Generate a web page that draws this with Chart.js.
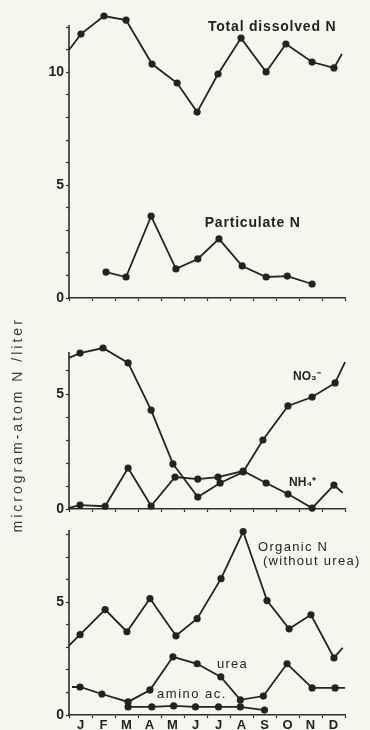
<!DOCTYPE html>
<html><head><meta charset="utf-8">
<script src="https://cdn.jsdelivr.net/npm/chart.js@4"></script>
<style>
html,body{margin:0;padding:0;background:#f6f6ee;}
body{width:370px;height:730px;position:relative;overflow:hidden;}
canvas{position:absolute;left:0;}
</style></head><body>
<canvas id="c1" width="370" height="310" style="top:0px"></canvas>
<canvas id="c2" width="370" height="260" style="top:290px"></canvas>
<canvas id="c3" width="370" height="208" style="top:522px"></canvas>
<script>
// ---- data (x = time in months from 1 Jan, y = microgram-atom N / liter) ----
const months = ['J','F','M','A','M','J','J','A','S','O','N','D'];

const tdnX = [0, 0.52, 1.52, 2.48, 3.61, 4.70, 5.57, 6.48, 7.48, 8.57, 9.43, 10.57, 11.52, 11.87];
const tdnY = [10.99, 11.70, 12.50, 12.32, 10.37, 9.53, 8.24, 9.93, 11.52, 10.02, 11.26, 10.46, 10.20, 10.82];

const pnX = [1.61, 2.48, 3.57, 4.65, 5.60, 6.52, 7.53, 8.57, 9.49, 10.57];
const pnY = [1.15, 0.93, 3.63, 1.29, 1.73, 2.62, 1.42, 0.93, 0.97, 0.62];

const no3X = [0, 0.48, 1.48, 2.57, 3.57, 4.52, 5.60, 6.57, 7.57, 8.43, 9.52, 10.57, 11.57, 12.0];
const no3Y = [6.57, 6.78, 7.00, 6.35, 4.30, 1.96, 0.52, 1.13, 1.61, 3.00, 4.48, 4.87, 5.48, 6.39];

const nh4X = [0, 0.48, 1.57, 2.57, 3.57, 4.61, 5.60, 6.48, 7.57, 8.57, 9.52, 10.57, 11.52, 11.9];
const nh4Y = [0.05, 0.17, 0.12, 1.78, 0.13, 1.39, 1.30, 1.39, 1.65, 1.13, 0.65, 0.04, 1.04, 0.70];

const orgX = [0, 0.48, 1.57, 2.52, 3.52, 4.65, 5.57, 6.61, 7.57, 8.61, 9.57, 10.52, 11.52, 11.9];
const orgY = [3.07, 3.56, 4.67, 3.69, 5.16, 3.51, 4.27, 6.04, 8.13, 5.07, 3.82, 4.44, 2.53, 2.98];

const ureaX = [0.13, 0.48, 1.43, 2.57, 3.52, 4.52, 5.57, 6.60, 7.45, 8.45, 9.48, 10.57, 11.57, 12.0];
const ureaY = [1.24, 1.24, 0.93, 0.58, 1.11, 2.58, 2.27, 1.69, 0.67, 0.84, 2.27, 1.20, 1.20, 1.20];

const aminoX = [2.57, 3.60, 4.55, 5.50, 6.50, 7.45, 8.50];
const aminoY = [0.36, 0.36, 0.40, 0.36, 0.36, 0.36, 0.22];

const yTicksTop = [0,1,2,3,4,5,6,7,8,9,10,11,12];
const yTicksMid = [0,1,2,3,4,5,6];
const yTicksBot = [0,1,2,3,4,5,6,7,8];
const yLabelled = [0, 5, 10];
const yTitle = 'microgram-atom N /liter';

// ---- styling ----
const INK = '#232323';
const AXIS = '#2e2e2e';
const FONT = "'Liberation Sans', Arial, sans-serif";

const notesPlugin = {
  id: 'notes',
  afterDatasetsDraw(chart, args, opts) {
    const ctx = chart.ctx, xs = chart.scales.x, ys = chart.scales.y;
    (opts.items || []).forEach(n => {
      ctx.save();
      ctx.font = n.font;
      ctx.fillStyle = INK;
      ctx.letterSpacing = n.spacing || '0px';
      ctx.textAlign = 'left';
      ctx.textBaseline = 'middle';
      ctx.fillText(n.text, xs.getPixelForValue(n.x), ys.getPixelForValue(n.y));
      ctx.restore();
    });
  }
};

// vertical axis line that stops at the panel's axis top (points may rise above it)
const axisLinePlugin = {
  id: 'axisline',
  beforeDatasetsDraw(chart, args, opts) {
    const ctx = chart.ctx, ys = chart.scales.y, x = chart.chartArea.left;
    ctx.save();
    ctx.strokeStyle = AXIS;
    ctx.lineWidth = 1.6;
    ctx.beginPath();
    ctx.moveTo(x, ys.getPixelForValue(0) + 0.8);
    ctx.lineTo(x, ys.getPixelForValue(opts.top));
    ctx.stroke();
    ctx.restore();
  }
};

const titlePlugin = {
  id: 'ytitle',
  afterDraw(chart) {
    const ctx = chart.ctx, ys = chart.scales.y;
    ctx.save();
    ctx.translate(ys.left + 18, ys.getPixelForValue(3.4) - 6);
    ctx.rotate(-Math.PI / 2);
    ctx.font = '14px ' + FONT;
    ctx.fillStyle = '#3a3a3a';
    ctx.letterSpacing = '3px';
    ctx.textAlign = 'center';
    ctx.textBaseline = 'middle';
    ctx.fillText(yTitle, 0, 0);
    ctx.restore();
  }
};

function series(xs, ys, openEnds) {
  return {
    data: xs.map((x, i) => ({ x, y: ys[i] })),
    borderColor: INK,
    backgroundColor: INK,
    borderWidth: 1.8,
    pointRadius: ctx => (openEnds && (ctx.dataIndex === 0 || ctx.dataIndex === xs.length - 1)) ? 0 : 3.6,
    pointBorderWidth: 0,
    pointBackgroundColor: INK,
    tension: 0,
    fill: false,
    clip: false
  };
}

function build(id, spec) {
  const nM = months.length;
  return new Chart(document.getElementById(id), {
    type: 'line',
    data: { datasets: spec.datasets },
    options: {
      responsive: false,
      animation: false,
      events: [],
      layout: { padding: { top: spec.padTop, right: 25, left: 0, bottom: 0 } },
      plugins: {
        legend: { display: false },
        tooltip: { enabled: false },
        notes: { items: spec.notes },
        axisline: { top: spec.axisTop }
      },
      scales: {
        x: {
          type: 'linear', min: 0, max: nM, bounds: 'data',
          afterBuildTicks: sc => {
            const t = [];
            for (let i = 0; i <= nM; i++) {
              t.push({ value: i });
              if (spec.xLabels && i < nM) t.push({ value: i + 0.5 });
            }
            sc.ticks = t;
          },
          afterFit: sc => { sc.height = spec.xHeight; sc.paddingLeft = 0; sc.paddingRight = 0; },
          border: { display: true, color: AXIS, width: 1.5 },
          grid: {
            drawOnChartArea: false, drawTicks: true, tickLength: 3, tickWidth: 1.2,
            tickColor: c => (c.tick && Number.isInteger(c.tick.value)) ? AXIS : 'rgba(0,0,0,0)'
          },
          ticks: {
            display: !!spec.xLabels, autoSkip: false, maxRotation: 0, minRotation: 0, padding: 0,
            color: INK, font: { family: FONT, size: 13, weight: 'bold' },
            callback: v => { const i = v - 0.5; return Number.isInteger(i) ? months[i] : ''; }
          }
        },
        y: {
          type: 'linear', min: 0, max: spec.yMax, bounds: 'data',
          afterBuildTicks: sc => { sc.ticks = spec.yTicks.map(v => ({ value: v })); },
          afterFit: sc => { sc.width = 69; sc.paddingTop = 0; sc.paddingBottom = 0; },
          border: { display: false },
          grid: { drawOnChartArea: false, drawTicks: true, tickLength: 3, tickWidth: 1.2, tickColor: AXIS },
          ticks: {
            padding: 2, color: INK, font: { family: FONT, size: 14, weight: 'bold' },
            callback: v => yLabelled.includes(v) ? String(v) : ''
          }
        }
      }
    },
    plugins: spec.plugins
  });
}

build('c1', {
  padTop: 11.5, xHeight: 12, yMax: 12.7, axisTop: 12.1, yTicks: yTicksTop, xLabels: false,
  datasets: [series(tdnX, tdnY, true), series(pnX, pnY, false)],
  notes: [
    { text: 'Total dissolved N', x: 6.04, y: 12.0, font: 'bold 14px ' + FONT, spacing: '0.8px' },
    { text: 'Particulate N', x: 5.9, y: 3.3, font: 'bold 14px ' + FONT, spacing: '0.8px' }
  ],
  plugins: [axisLinePlugin, notesPlugin]
});

build('c2', {
  padTop: 55.7, xHeight: 41, yMax: 7.1, axisTop: 6.83, yTicks: yTicksMid, xLabels: false,
  datasets: [series(no3X, no3Y, true), series(nh4X, nh4Y, true)],
  notes: [
    { text: 'NO\u2083\u207B', x: 9.74, y: 5.74, font: 'bold 12px ' + FONT, spacing: '0px' },
    { text: 'NH\u2084\u207A', x: 9.57, y: 1.13, font: 'bold 12px ' + FONT, spacing: '0px' }
  ],
  plugins: [axisLinePlugin, notesPlugin, titlePlugin]
});

build('c3', {
  padTop: 5.7, xHeight: 15, yMax: 8.3, axisTop: 8.2, yTicks: yTicksBot, xLabels: true,
  datasets: [series(orgX, orgY, true), series(ureaX, ureaY, true), series(aminoX, aminoY, false)],
  notes: [
    { text: 'Organic N', x: 8.22, y: 7.42, font: '13px ' + FONT, spacing: '1.3px' },
    { text: '(without urea)', x: 8.43, y: 6.8, font: '13px ' + FONT, spacing: '1.3px' },
    { text: 'urea', x: 6.43, y: 2.22, font: '13px ' + FONT, spacing: '1.3px' },
    { text: 'amino ac.', x: 3.83, y: 0.89, font: '13px ' + FONT, spacing: '1.5px' }
  ],
  plugins: [axisLinePlugin, notesPlugin]
});
</script>
</body></html>
